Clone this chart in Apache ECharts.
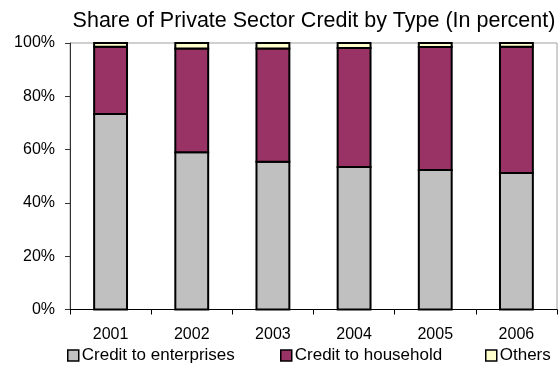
<!DOCTYPE html>
<html>
<head>
<meta charset="utf-8">
<script src="https://cdn.jsdelivr.net/npm/echarts@6/dist/echarts.min.js"></script>
<style>
  html, body { margin: 0; padding: 0; background: #fff; }
  #chart { width: 558px; height: 371px; }
</style>
</head>
<body>
<div id="chart"></div>
<script>
// Share of private sector credit, percent of total, by year
const years = ['2001', '2002', '2003', '2004', '2005', '2006'];
const enterprises = [73.4, 59.0, 55.4, 53.5, 52.3, 51.2];
const household = [25.2, 38.9, 42.5, 44.6, 46.2, 47.4];
const others = [1.4, 2.1, 2.1, 1.9, 1.5, 1.4];
const yTicks = [0, 20, 40, 60, 80, 100];

const FONT = 'Liberation Sans, Arial, sans-serif';
const seriesDefs = [
  { name: 'Credit to enterprises', data: enterprises, color: '#C0C0C0' },
  { name: 'Credit to household', data: household, color: '#993366' },
  { name: 'Others', data: others, color: '#FFFFCC' }
];
const legendLeft = [67, 280, 485];
const BAR_RATIO = 0.405; // bar width as a share of the category band

// Stack the segments: each row is [category index, base, top, value]
const stackBase = years.map(() => 0);
const stackedRows = seriesDefs.map(s => s.data.map((v, i) => {
  const row = [i, stackBase[i], stackBase[i] + v, v];
  stackBase[i] += v;
  return row;
}));

function renderSegment(params, api) {
  const i = api.value(0);
  const p0 = api.coord([i, api.value(1)]);
  const p1 = api.coord([i, api.value(2)]);
  const w = api.size([1, 0])[0] * BAR_RATIO;
  return {
    type: 'rect',
    shape: { x: p0[0] - w / 2, y: p1[1], width: w, height: p0[1] - p1[1] },
    style: { fill: api.visual('color'), stroke: '#000', lineWidth: 2 }
  };
}

const chart = echarts.init(document.getElementById('chart'), null, { renderer: 'canvas' });
chart.setOption({
  animation: false,
  backgroundColor: '#fff',
  title: {
    text: 'Share of Private Sector Credit by Type (In percent)',
    left: 309, top: 5, textAlign: 'center',
    textStyle: { fontFamily: FONT, fontSize: 21.5, fontWeight: 'normal', color: '#000' }
  },
  legend: seriesDefs.map((s, i) => ({
    data: [{ name: s.name, icon: 'rect', itemStyle: { color: s.color, borderColor: '#000', borderWidth: 1.5 } }],
    left: legendLeft[i], top: 347, padding: 0,
    itemWidth: 11, itemHeight: 11, itemGap: 0,
    textStyle: { fontFamily: FONT, fontSize: 17, color: '#000', padding: [0, 0, 0, -2] }
  })),
  grid: {
    left: 70, right: 1, top: 43, bottom: 61.5,
    show: true, borderColor: '#a0a0a0', borderWidth: 1
  },
  xAxis: {
    type: 'category',
    data: years,
    boundaryGap: true,
    axisLine: { lineStyle: { color: '#000', width: 1 } },
    axisTick: { show: true, length: 5, lineStyle: { color: '#000' } },
    axisLabel: { fontFamily: FONT, fontSize: 16, color: '#000', margin: 17 }
  },
  yAxis: {
    type: 'value',
    min: yTicks[0], max: yTicks[yTicks.length - 1], interval: yTicks[1] - yTicks[0],
    axisLine: { show: true, lineStyle: { color: '#333', width: 1 } },
    axisTick: { show: true, length: 5, lineStyle: { color: '#333' } },
    splitLine: { show: false },
    axisLabel: { fontFamily: FONT, fontSize: 16, color: '#000', margin: 15, formatter: '{value}%' }
  },
  series: seriesDefs.map((s, k) => ({
    name: s.name,
    type: 'custom',
    renderItem: renderSegment,
    itemStyle: { color: s.color },
    encode: { x: 0, y: [1, 2] },
    data: stackedRows[k],
    z: 2
  }))
});
</script>
</body>
</html>
